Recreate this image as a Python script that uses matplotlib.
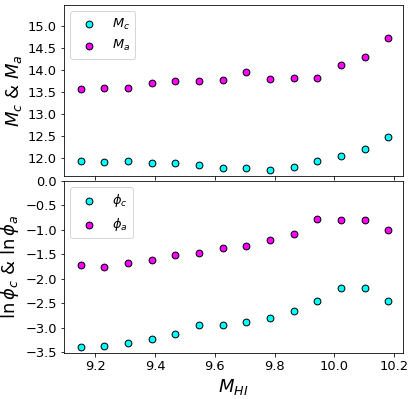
import numpy as np
import matplotlib
matplotlib.use("Agg")
import matplotlib.pyplot as plt

m_hi = [9.151, 9.230, 9.310, 9.388, 9.467, 9.547, 9.626, 9.705, 9.784,
        9.863, 9.942, 10.021, 10.101, 10.180]
M_c = [11.95, 11.92, 11.95, 11.89, 11.89, 11.84, 11.77, 11.78, 11.73,
       11.81, 11.93, 12.05, 12.22, 12.48]
M_a = [13.57, 13.60, 13.60, 13.70, 13.76, 13.76, 13.78, 13.97, 13.80,
       13.82, 13.82, 14.12, 14.30, 14.73]
phi_c = [-3.39, -3.37, -3.31, -3.24, -3.14, -2.94, -2.95, -2.88, -2.81,
         -2.66, -2.455, -2.19, -2.19, -2.46]
phi_a = [-1.72, -1.76, -1.675, -1.61, -1.52, -1.48, -1.38, -1.33, -1.22,
         -1.08, -0.785, -0.81, -0.81, -1.01]

top_ticks = [12.0, 12.5, 13.0, 13.5, 14.0, 14.5, 15.0]
bot_ticks = [-3.5, -3.0, -2.5, -2.0, -1.5, -1.0, -0.5, 0.0]
x_ticks = [9.2, 9.4, 9.6, 9.8, 10.0, 10.2]

DPI = 72
fig = plt.figure(figsize=(415 / DPI, 399 / DPI), dpi=DPI)
ax1 = fig.add_axes([0.154, 0.559, 0.817, 0.4285])
ax2 = fig.add_axes([0.154, 0.1153, 0.817, 0.4317], sharex=ax1)

tfs = 13
ms = 46
ax1.scatter(m_hi, M_c, s=ms, c='#00ffff', edgecolors='black', linewidths=1.0, label=r'$M_c$', zorder=3)
ax1.scatter(m_hi, M_a, s=ms, c='#ff00ff', edgecolors='black', linewidths=1.0, label=r'$M_a$', zorder=3)
ax1.set_ylim(11.6, 15.48)
ax1.set_yticks(top_ticks)
ax1.set_yticklabels([f"{t:.1f}" for t in top_ticks])
ax1.set_ylabel(r'$M_c$ & $M_a$', fontsize=18)
ax1.tick_params(labelsize=tfs, labelbottom=False)
ax1.legend(loc='upper left', fontsize=tfs)

ax2.scatter(m_hi, phi_c, s=ms, c='#00ffff', edgecolors='black', linewidths=1.0, label=r'$\phi_c$', zorder=3)
ax2.scatter(m_hi, phi_a, s=ms, c='#ff00ff', edgecolors='black', linewidths=1.0, label=r'$\phi_a$', zorder=3)
ax2.set_ylim(-3.52, 0.0)
ax2.set_yticks(bot_ticks)
ax2.set_yticklabels([f"{t:.1f}".replace('-', '\u2212') for t in bot_ticks])
ax2.set_xlim(9.095, 10.229)
ax2.set_xticks(x_ticks)
ax2.set_xticklabels([f"{t:.1f}" for t in x_ticks])
ax2.set_ylabel(r'$\ln\phi_c$ & $\ln\phi_a$', fontsize=18)
ax2.set_xlabel(r'$M_{HI}$', fontsize=18)
ax2.tick_params(labelsize=tfs)
ax2.legend(loc='upper left', fontsize=tfs)

fig.savefig('out.png', dpi=DPI)
